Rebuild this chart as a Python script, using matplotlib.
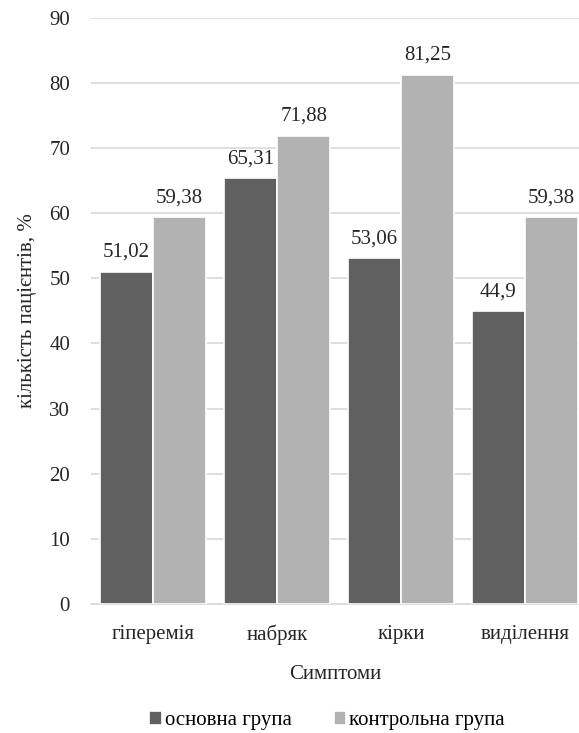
import numpy as np
import matplotlib.pyplot as plt

categories = ['гіперемія', 'набряк', 'кірки', 'виділення']
main_group = [51.02, 65.31, 53.06, 44.9]
control_group = [59.38, 71.88, 81.25, 59.38]
labels_main = ['51,02', '65,31', '53,06', '44,9']
labels_control = ['59,38', '71,88', '81,25', '59,38']

plt.rcParams['font.family'] = ['Liberation Serif', 'DejaVu Serif']
fs = 15

fig = plt.figure(figsize=(5.79, 7.33), dpi=100)
ax = fig.add_axes([0.157, 0.176, 0.843, 0.8])

x = np.arange(len(categories))
w = 0.43
b1 = ax.bar(x - w / 2, main_group, w, color='#606060', edgecolor='white', linewidth=1.2,
            label='основна група', zorder=3)
b2 = ax.bar(x + w / 2, control_group, w, color='#b2b2b2', edgecolor='white', linewidth=1.2,
            label='контрольна група', zorder=3)

for bars, labs in ((b1, labels_main), (b2, labels_control)):
    for bar, lab in zip(bars, labs):
        ax.annotate(lab, (bar.get_x() + bar.get_width() / 2, bar.get_height()),
                    xytext=(0, 7), textcoords='offset points', ha='center', va='bottom',
                    fontsize=fs, color='#262626', family='Liberation Serif')

ax.set_ylim(0, 90)
ax.set_yticks(range(0, 91, 10))
ax.set_xlim(-0.5, 3.435)
ax.set_xticks(x)
ax.set_xticklabels(categories, family='Liberation Serif')
ax.yaxis.grid(True, color='#d9d9d9', linewidth=1.2, zorder=0)
for s in ['top', 'right', 'left']:
    ax.spines[s].set_visible(False)
ax.spines['bottom'].set_color('#d9d9d9')
ax.spines['bottom'].set_linewidth(1.2)
ax.tick_params(axis='both', length=0, labelsize=fs, colors='#262626')
ax.tick_params(axis='y', pad=15)
ax.tick_params(axis='x', pad=15)

ax.set_xlabel('Симптоми', fontsize=fs, color='#262626', labelpad=14, family='Liberation Serif')
ax.set_ylabel('кількість пацієнтів, %', fontsize=fs, color='#262626', labelpad=9,
              family='Liberation Serif')

fig.legend(loc='lower center', bbox_to_anchor=(0.565, -0.022), ncol=2, frameon=False,
           prop={'family': 'Liberation Serif', 'size': fs},
           handlelength=0.6, handleheight=0.6, handletextpad=0.15, columnspacing=2.0)

plt.savefig('out.png', dpi=100)
